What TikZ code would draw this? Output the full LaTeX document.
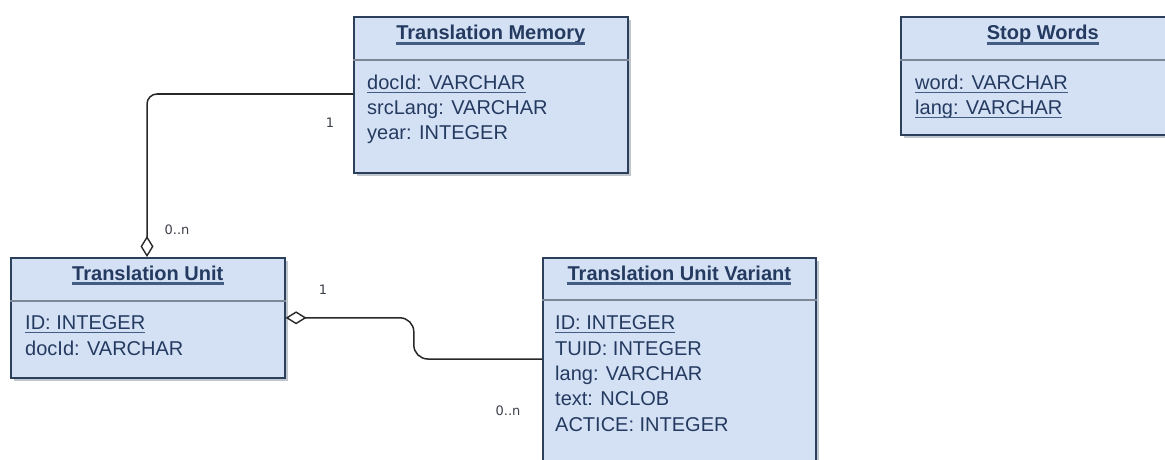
\documentclass[tikz,border=0pt]{standalone}
\usepackage{fontspec}
\setmainfont{Liberation Sans}
\newfontfamily\multfont{DejaVu Sans}
\usetikzlibrary{calc,arrows.meta,shadows}

\definecolor{classfill}{RGB}{212,225,244}
\definecolor{classedge}{RGB}{44,64,92}
\definecolor{classtext}{RGB}{36,58,96}
\definecolor{ulcolor}{RGB}{66,92,132}
\definecolor{shadowgray}{RGB}{192,198,206}
\definecolor{divider}{RGB}{125,135,150}
\definecolor{linkcolor}{RGB}{40,40,40}
\definecolor{multcolor}{RGB}{60,64,72}

\tikzset{
  classbox/.style={draw=classedge, line width=1.6pt, fill=classfill,
    anchor=north west, inner sep=0pt,
    drop shadow={shadow xshift=3pt, shadow yshift=-3pt, fill=shadowgray, opacity=1}},
  ctitle/.style={font=\fontsize{20}{24}\selectfont\bfseries, text=classtext,
    inner sep=0pt, anchor=base},
  attr/.style={font=\fontsize{20}{24}\selectfont, text=classtext,
    inner sep=0pt, anchor=base west},
  uline/.style={draw=ulcolor, line width=#1},
  ul/.style={append after command={
      ([yshift=-3.5pt]\tikzlastnode.base west) edge[uline=#1]
      ([yshift=-3.5pt]\tikzlastnode.base east)}},
  ul/.default=1.5pt,
  sep/.style={draw=divider, line width=1.3pt},
  conn/.style={draw=linkcolor, line width=1.5pt},
  agg/.style={conn, {Diamond[open, length=21pt, width=13pt, line width=1.4pt]}-},
  mult/.style={font=\multfont\fontsize{13}{15}\selectfont, text=multcolor,
    inner sep=0pt, anchor=center}
}

\begin{document}
\begin{tikzpicture}[x=1pt, y=-1pt]
\useasboundingbox (0,0) rectangle (1165,460);
\clip (0,0) rectangle (1165,460);

% ---- Translation Memory ----
\node[classbox, minimum width=274pt, minimum height=156pt] (tm) at (353,16) {};
\draw[sep] ($(tm.north west)+(0,44)$) -- ($(tm.north east)+(0,44)$);
\node[ctitle, ul=2.4pt] (tmT) at ($(tm.north)+(0,24)$) {Translation Memory};
\node[attr, ul] (tm1) at ($(tm.north west)+(14,73)$) {docId: VARCHAR};
\node[attr] (tm2) at ($(tm.north west)+(14,98)$) {srcLang: VARCHAR};
\node[attr] (tm3) at ($(tm.north west)+(14,123)$) {year: INTEGER};

% ---- Stop Words ----
\node[classbox, minimum width=284pt, minimum height=118pt] (sw) at (900,16) {};
\draw[sep] ($(sw.north west)+(0,44)$) -- ($(sw.north east)+(0,44)$);
\node[ctitle, ul=2.4pt] (swT) at ($(sw.north)+(0,24)$) {Stop Words};
\node[attr, ul] (sw1) at ($(sw.north west)+(15,73)$) {word: VARCHAR};
\node[attr, ul] (sw2) at ($(sw.north west)+(15,98)$) {lang: VARCHAR};

% ---- Translation Unit ----
\node[classbox, minimum width=274pt, minimum height=120pt] (tu) at (10,257) {};
\draw[sep] ($(tu.north west)+(0,44)$) -- ($(tu.north east)+(0,44)$);
\node[ctitle, ul=2.4pt] (tuT) at ($(tu.north)+(0,23)$) {Translation Unit};
\node[attr, ul] (tu1) at ($(tu.north west)+(15,72)$) {ID: INTEGER};
\node[attr] (tu2) at ($(tu.north west)+(15,98)$) {docId: VARCHAR};

% ---- Translation Unit Variant ----
\node[classbox, minimum width=273pt, minimum height=220pt] (tuv) at (542,257) {};
\draw[sep] ($(tuv.north west)+(0,43)$) -- ($(tuv.north east)+(0,43)$);
\node[ctitle, ul=2.4pt] (tuvT) at ($(tuv.north)+(0,23)$) {Translation Unit Variant};
\node[attr, ul] (tuv1) at ($(tuv.north west)+(13,72)$) {ID: INTEGER};
\node[attr] (tuv2) at ($(tuv.north west)+(13,98)$) {TUID: INTEGER};
\node[attr] (tuv3) at ($(tuv.north west)+(13,123)$) {lang: VARCHAR};
\node[attr] (tuv4) at ($(tuv.north west)+(13,148)$) {text: NCLOB};
\node[attr] (tuv5) at ($(tuv.north west)+(13,174)$) {ACTICE: INTEGER};

% ---- Translation Memory 1 -- 0..n Translation Unit ----
\coordinate (tmLink) at ($(tm.north west)+(0,78)$);
\coordinate (tuTop) at ($(tu.north west)+(137,0)$);
\draw[agg, rounded corners=10pt] (tuTop) -- (tuTop |- tmLink) -- (tmLink);
\node[mult] (m1) at (330,123) {1};
\node[mult] (m2) at (177,230) {0..n};

% ---- Translation Unit 1 -- 0..n Translation Unit Variant ----
\coordinate (tuvLink) at ($(tuv.north west)+(0,102)$);
\coordinate (bend) at ($(tu.east)!0.5!(tuvLink)$);
\draw[agg, rounded corners=14pt] (tu.east) -- (tu.east -| bend)
  -- (bend |- tuvLink) -- (tuvLink);
\node[mult] (m3) at (323,290) {1};
\node[mult] (m4) at (508,411) {0..n};
\end{tikzpicture}
\end{document}
